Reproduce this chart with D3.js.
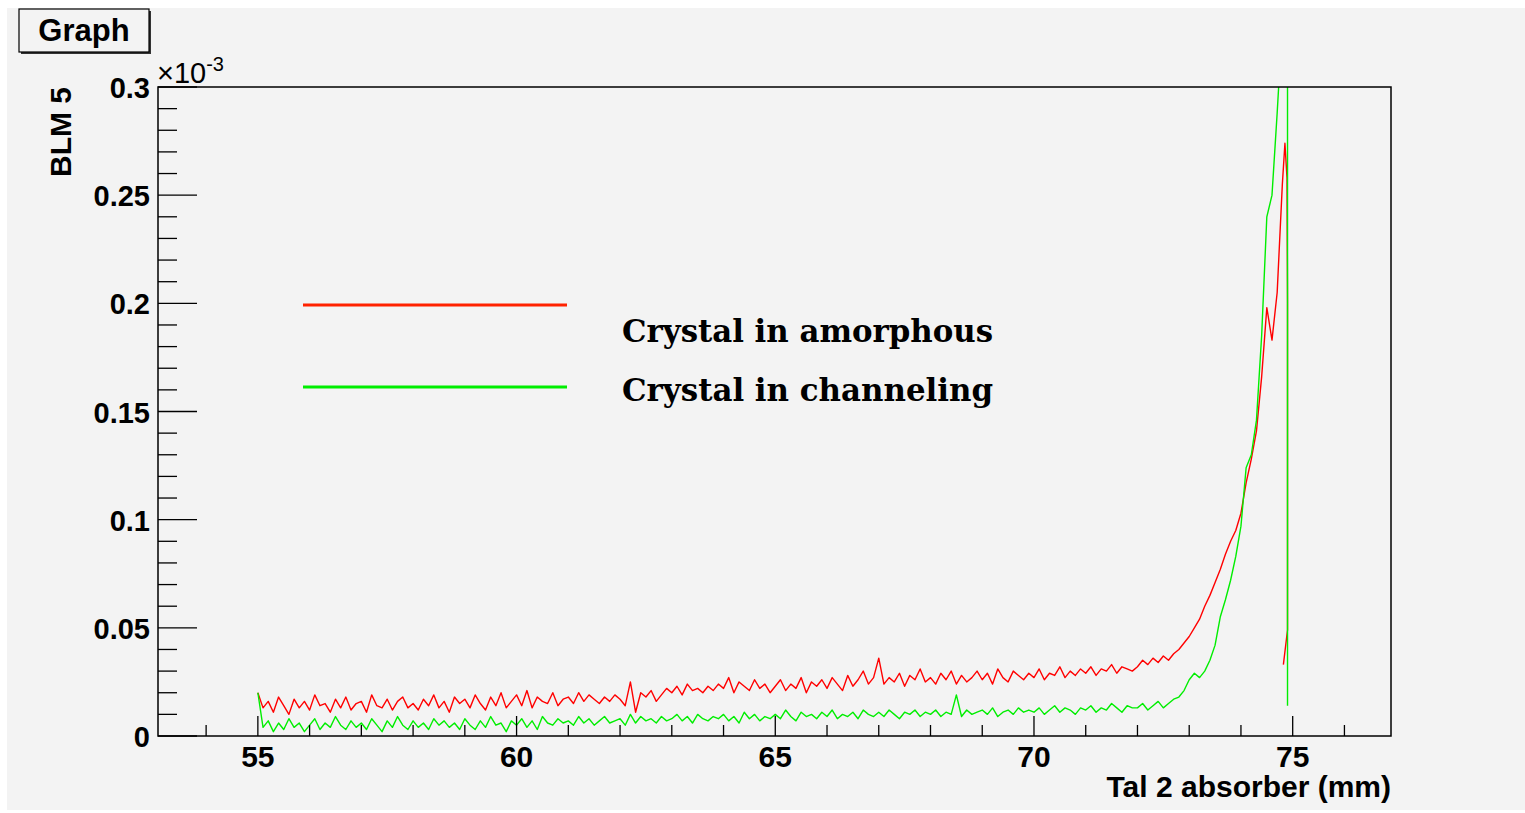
<!DOCTYPE html>
<html>
<head>
<meta charset="utf-8">
<script src="https://cdn.jsdelivr.net/npm/d3@7"></script>
<style>
  html, body { margin: 0; padding: 0; background: #ffffff; }
  svg { display: block; }
</style>
</head>
<body>
<div id="chart"></div>
<script>
// BLM 5 signal vs Tal 2 absorber position (values in units of 1e-3)
// regular scan: 55.0 mm, 0.1 mm steps, up to 74.8 mm
const scanStart = 55.0;
const scanStep = 0.1;

const amorphous = [
  0.020, 0.013, 0.016, 0.011, 0.018, 0.014, 0.010, 0.017, 0.013, 0.016,
  0.012, 0.019, 0.014, 0.015, 0.011, 0.017, 0.013, 0.018, 0.012, 0.015,
  0.016, 0.011, 0.019, 0.014, 0.013, 0.017, 0.012, 0.016, 0.018, 0.013,
  0.015, 0.012, 0.017, 0.014, 0.019, 0.013, 0.016, 0.011, 0.018, 0.015,
  0.017, 0.013, 0.019, 0.015, 0.012, 0.018, 0.014, 0.020, 0.013, 0.016,
  0.019, 0.014, 0.021, 0.013, 0.018, 0.016, 0.015, 0.020, 0.014, 0.017,
  0.018, 0.015, 0.020, 0.016, 0.019, 0.017, 0.015, 0.018, 0.016, 0.019,
  0.017, 0.014, 0.025, 0.011, 0.020, 0.018, 0.021, 0.016, 0.019, 0.022,
  0.020, 0.023, 0.019, 0.024, 0.021, 0.022, 0.020, 0.023, 0.021, 0.024,
  0.022, 0.027, 0.020, 0.025, 0.023, 0.021, 0.026, 0.022, 0.024, 0.020,
  0.023, 0.026, 0.021, 0.024, 0.022, 0.027, 0.020, 0.025, 0.023, 0.026,
  0.022, 0.027, 0.024, 0.021, 0.028, 0.023, 0.026, 0.030, 0.024, 0.027,
  0.036, 0.024, 0.027, 0.025, 0.029, 0.023, 0.028, 0.026, 0.031, 0.025,
  0.027, 0.024, 0.029, 0.026, 0.030, 0.024, 0.028, 0.025, 0.027, 0.030,
  0.026, 0.029, 0.024, 0.031, 0.027, 0.025, 0.030, 0.028, 0.026, 0.029,
  0.027, 0.031, 0.026, 0.029, 0.028, 0.032, 0.027, 0.030, 0.028, 0.031,
  0.029, 0.032, 0.028, 0.031, 0.030, 0.033, 0.029, 0.032, 0.031, 0.030,
  0.032, 0.035, 0.033, 0.036, 0.034, 0.037, 0.035, 0.038, 0.040, 0.043,
  0.046, 0.050, 0.054, 0.060, 0.065, 0.071, 0.077, 0.084, 0.090, 0.095,
  0.103, 0.117, 0.128, 0.141, 0.166, 0.198, 0.183, 0.205, 0.255
];

const channeling = [
  0.020, 0.004, 0.007, 0.002, 0.006, 0.003, 0.008, 0.004, 0.006, 0.002,
  0.005, 0.008, 0.003, 0.006, 0.004, 0.009, 0.005, 0.003, 0.007, 0.004,
  0.006, 0.003, 0.008, 0.005, 0.002, 0.007, 0.004, 0.009, 0.005, 0.003,
  0.007, 0.004, 0.006, 0.003, 0.008, 0.005, 0.007, 0.004, 0.006, 0.003,
  0.008, 0.005, 0.003, 0.007, 0.004, 0.009, 0.005, 0.006, 0.002, 0.007,
  0.005, 0.008, 0.004, 0.007, 0.003, 0.009, 0.006, 0.005, 0.008, 0.006,
  0.007, 0.005, 0.009, 0.006, 0.008, 0.005, 0.007, 0.009, 0.006, 0.007,
  0.008, 0.005, 0.010, 0.006, 0.009, 0.007, 0.008, 0.006, 0.009, 0.007,
  0.008, 0.010, 0.007, 0.009, 0.006, 0.010, 0.008, 0.007, 0.009, 0.008,
  0.010, 0.007, 0.009, 0.006, 0.011, 0.008, 0.010, 0.007, 0.009, 0.008,
  0.010, 0.008, 0.012, 0.009, 0.007, 0.011, 0.009, 0.010, 0.008, 0.011,
  0.009, 0.012, 0.008, 0.010, 0.009, 0.011, 0.008, 0.012, 0.010, 0.009,
  0.011, 0.009, 0.012, 0.010, 0.008, 0.011, 0.010, 0.012, 0.009, 0.011,
  0.010, 0.012, 0.009, 0.011, 0.010, 0.019, 0.009, 0.012, 0.010, 0.011,
  0.012, 0.010, 0.013, 0.009, 0.011, 0.012, 0.010, 0.013, 0.011, 0.012,
  0.011, 0.013, 0.010, 0.012, 0.014, 0.011, 0.013, 0.012, 0.010, 0.013,
  0.012, 0.014, 0.011, 0.013, 0.012, 0.015, 0.013, 0.011, 0.014, 0.013,
  0.013, 0.015, 0.012, 0.014, 0.016, 0.013, 0.015, 0.017, 0.018, 0.021,
  0.026, 0.029, 0.027, 0.030, 0.035, 0.042, 0.055, 0.063, 0.072, 0.083,
  0.097, 0.124, 0.130, 0.146, 0.185, 0.240, 0.250, 0.288, 0.330
];

// end of scan: peak, fall and step back
const amorphousTail = [[74.85, 0.274], [74.89, 0.258], [74.90, 0.200], [74.90, 0.049], [74.82, 0.033]];
const channelingTail = [[74.85, 0.420], [74.90, 0.400], [74.90, 0.014]];

const xTicks = [55, 60, 65, 70, 75];
const yTicks = [0, 0.05, 0.1, 0.15, 0.2, 0.25, 0.3];
const legendLabels = ['Crystal in amorphous', 'Crystal in channeling'];
const seriesColors = ['#ff0000', '#00ee00'];

const width = 1525, height = 813;
const frame = { left: 158, right: 1391, top: 87, bottom: 736 };
const bg = '#f3f3f3';
const sans = 'Liberation Sans, Arial, Helvetica, sans-serif';

const svg = d3.select('#chart').append('svg')
  .attr('width', width).attr('height', height);

svg.append('rect').attr('x', 7).attr('y', 8)
  .attr('width', width - 7).attr('height', 802).attr('fill', bg);

const x = d3.scaleLinear().domain([53.07, 76.9]).range([frame.left, frame.right]);
const y = d3.scaleLinear().domain([0, 0.3]).range([frame.bottom, frame.top]);

function toPoints(vals, tail) {
  const pts = vals.map((v, i) => [scanStart + i * scanStep, v]);
  return pts.concat(tail);
}

const defs = svg.append('defs');
defs.append('clipPath').attr('id', 'frameClip')
  .append('rect')
  .attr('x', frame.left).attr('y', frame.top)
  .attr('width', frame.right - frame.left).attr('height', frame.bottom - frame.top);
const blur = defs.append('filter').attr('id', 'shadow')
  .attr('x', '-10%').attr('y', '-200%').attr('width', '120%').attr('height', '500%');
blur.append('feGaussianBlur').attr('stdDeviation', 2);

// data lines
const line = d3.line().x(d => x(d[0])).y(d => y(d[1]));
const plot = svg.append('g').attr('clip-path', 'url(#frameClip)');
[[amorphous, amorphousTail], [channeling, channelingTail]].forEach((s, i) => {
  plot.append('path')
    .datum(toPoints(s[0], s[1]))
    .attr('d', line)
    .attr('fill', 'none')
    .attr('stroke', seriesColors[i])
    .attr('stroke-width', 1.4)
    .attr('stroke-linejoin', 'round');
});

// frame
svg.append('rect')
  .attr('x', frame.left).attr('y', frame.top)
  .attr('width', frame.right - frame.left).attr('height', frame.bottom - frame.top)
  .attr('fill', 'none').attr('stroke', '#000').attr('stroke-width', 1.5);

// x axis ticks (major every 5, minor every 1)
const xMinor = d3.range(54, 77, 1);
svg.append('g').selectAll('line').data(xMinor).join('line')
  .attr('x1', d => x(d)).attr('x2', d => x(d))
  .attr('y1', frame.bottom)
  .attr('y2', d => frame.bottom - (d % 5 === 0 ? 20 : 11))
  .attr('stroke', '#000').attr('stroke-width', 1.3);
svg.append('g').selectAll('text').data(xTicks).join('text')
  .attr('x', d => x(d)).attr('y', 767)
  .attr('text-anchor', 'middle')
  .attr('font-family', sans).attr('font-weight', 'bold').attr('font-size', '30px')
  .text(d => d);

// y axis ticks (major every 0.05, minor every 0.01)
const yMinor = d3.range(0, 31).map(k => k / 100);
svg.append('g').selectAll('line').data(yMinor).join('line')
  .attr('x1', frame.left)
  .attr('x2', (d, k) => frame.left + (k % 5 === 0 ? 39 : 19))
  .attr('y1', d => y(d)).attr('y2', d => y(d))
  .attr('stroke', '#000').attr('stroke-width', 1.3);
svg.append('g').selectAll('text').data(yTicks).join('text')
  .attr('x', 150).attr('y', d => y(d) + 11)
  .attr('text-anchor', 'end')
  .attr('font-family', sans).attr('font-weight', 'bold').attr('font-size', '29px')
  .text(d => d);

// exponent label
const expo = svg.append('text').attr('x', 157).attr('y', 83)
  .attr('font-family', sans).attr('font-size', '29px');
expo.append('tspan').text('\u00d710');
expo.append('tspan').attr('dy', -12).attr('font-size', '20px').text('-3');

// axis titles
svg.append('text')
  .attr('x', frame.right).attr('y', 797)
  .attr('text-anchor', 'end')
  .attr('font-family', sans).attr('font-weight', 'bold').attr('font-size', '30px')
  .text('Tal 2 absorber (mm)');
svg.append('text')
  .attr('transform', `translate(71, ${frame.top}) rotate(-90)`)
  .attr('text-anchor', 'end')
  .attr('font-family', sans).attr('font-weight', 'bold').attr('font-size', '30px')
  .text('BLM 5');

// title box
svg.append('rect').attr('x', 21).attr('y', 11).attr('width', 130).attr('height', 43).attr('fill', '#333');
svg.append('rect').attr('x', 19).attr('y', 9).attr('width', 130).attr('height', 43)
  .attr('fill', bg).attr('stroke', '#000').attr('stroke-width', 1.2);
svg.append('text').attr('x', 84).attr('y', 41)
  .attr('text-anchor', 'middle')
  .attr('font-family', sans).attr('font-weight', 'bold').attr('font-size', '31px')
  .text('Graph');

// legend
const legY = [305, 387];
const legTextY = [342, 401];
legendLabels.forEach((lab, i) => {
  svg.append('line')
    .attr('x1', 305).attr('x2', 569).attr('y1', legY[i] + 5).attr('y2', legY[i] + 5)
    .attr('stroke', '#888').attr('stroke-width', 3).attr('opacity', 0.7)
    .attr('filter', 'url(#shadow)');
  svg.append('line')
    .attr('x1', 303).attr('x2', 567).attr('y1', legY[i]).attr('y2', legY[i])
    .attr('stroke', i === 0 ? '#ff2200' : '#00ee00').attr('stroke-width', 3);
  svg.append('text')
    .attr('x', 622).attr('y', legTextY[i])
    .attr('font-family', 'DejaVu Serif, serif').attr('font-weight', 'bold')
    .attr('font-size', '31px')
    .attr('textLength', 371).attr('lengthAdjust', 'spacingAndGlyphs')
    .text(lab);
});
</script>
</body>
</html>
